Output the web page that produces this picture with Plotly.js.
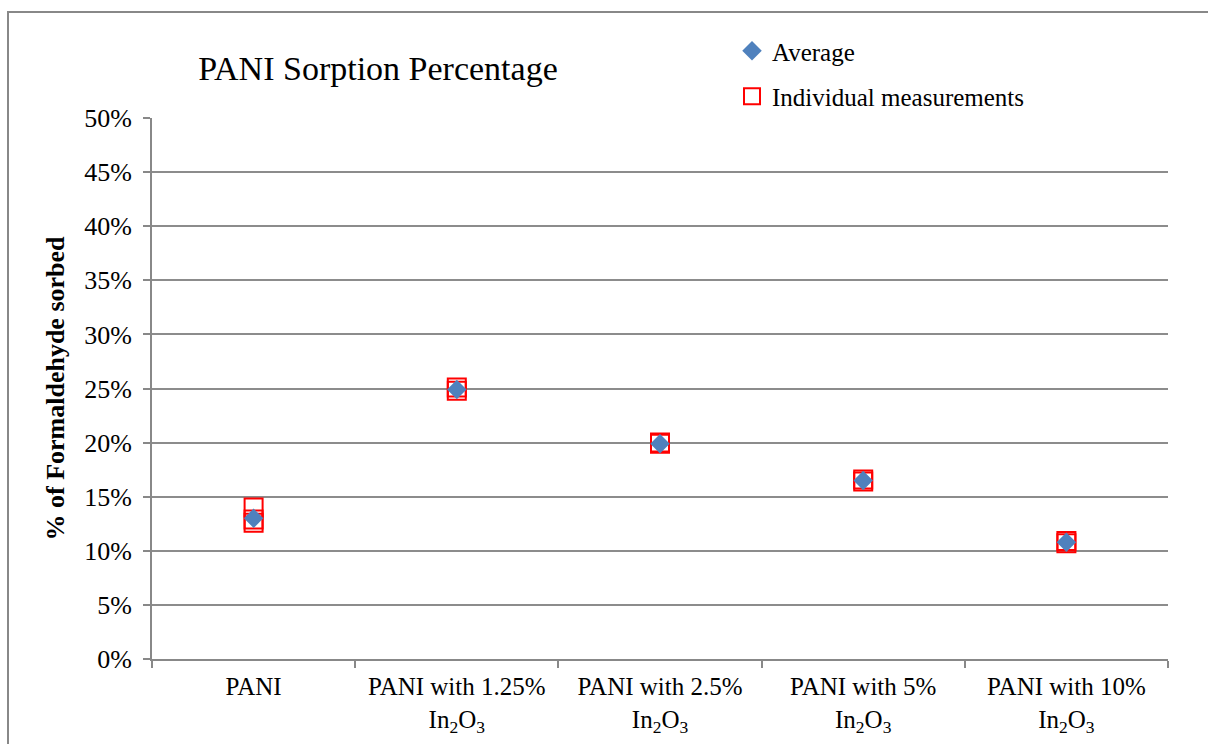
<!DOCTYPE html>
<html>
<head>
<meta charset="utf-8">
<script src="https://cdn.plot.ly/plotly-3.0.1.min.js"></script>
<style>html,body{margin:0;padding:0;background:#fff;}#chart{width:1208px;height:744px;}</style>
</head>
<body>
<div id="chart"></div>
<script>
const categories = ["PANI", "PANI with 1.25%<br>In<sub>2</sub>O<sub>3</sub>", "PANI with 2.5%<br>In<sub>2</sub>O<sub>3</sub>", "PANI with 5%<br>In<sub>2</sub>O<sub>3</sub>", "PANI with 10%<br>In<sub>2</sub>O<sub>3</sub>"];
const averageValues = [0.130, 0.249, 0.199, 0.165, 0.108];
const individualCategoryIndex = [0, 0, 0, 1, 1, 2, 2, 3, 3, 4, 4];
const individualValues = [0.140, 0.129, 0.126, 0.251, 0.248, 0.200, 0.199, 0.166, 0.164, 0.109, 0.107];
const yTickValues = [0, 0.05, 0.10, 0.15, 0.20, 0.25, 0.30, 0.35, 0.40, 0.45, 0.50];
const yTickLabels = ["0%", "5%", "10%", "15%", "20%", "25%", "30%", "35%", "40%", "45%", "50%"];

const font = "Liberation Serif";
const traces = [
  {
    x: individualCategoryIndex.map(i => categories[i]),
    y: individualValues,
    type: "scatter", mode: "markers", name: "Individual measurements",
    legendgroup: "b", legendrank: 2,
    marker: {symbol: "square-open", size: 18, color: "#FF0000", line: {width: 2, color: "#FF0000"}}
  },
  {
    x: categories, y: averageValues,
    type: "scatter", mode: "markers", name: "Average",
    legendgroup: "a", legendrank: 1,
    marker: {symbol: "diamond", size: 15, color: "#4F81BD"}
  }
];
const layout = {
  width: 1208, height: 744,
  margin: {l: 152, r: 40, t: 118, b: 85},
  paper_bgcolor: "#fff", plot_bgcolor: "#fff",
  font: {family: font, color: "#000", size: 25},
  title: {text: "PANI Sorption Percentage", font: {family: font, size: 34, color: "#000"}, x: 378/1208, xanchor: "center", y: 1 - 68/744, yanchor: "middle"},
  xaxis: {
    type: "category", range: [-0.5, 4.5], tickson: "boundaries", ticks: "outside", ticklen: 7, tickwidth: 2, tickcolor: "#888",
    showgrid: false, showline: true, linecolor: "#888", linewidth: 2, zeroline: false,
    tickfont: {family: font, size: 25, color: "#000"}, ticklabelstandoff: 4
  },
  yaxis: {
    range: [0, 0.5], tickvals: yTickValues, ticktext: yTickLabels, ticks: "outside", ticklen: 7, tickwidth: 2, tickcolor: "#888",
    showgrid: true, gridcolor: "#8c8c8c", gridwidth: 2, showline: true, linecolor: "#888", linewidth: 2, zeroline: false,
    tickfont: {family: font, size: 26, color: "#000"}, ticklabelstandoff: 6,
    title: {text: "<b>% of Formaldehyde sorbed</b>", font: {family: font, size: 26, color: "#000"}, standoff: 12}
  },
  legend: {x: (732-152)/1016, y: 1 + (118-28)/541, xanchor: "left", yanchor: "top", traceorder: "grouped", tracegroupgap: 10,
    font: {family: font, size: 25, color: "#000"}, bgcolor: "rgba(0,0,0,0)", itemwidth: 30},
  showlegend: true,
  shapes: [{type: "rect", xref: "paper", yref: "paper", x0: (8-152)/1016, x1: (1230-152)/1016, y0: -(770-659)/541, y1: 1 + (118-12)/541,
    line: {color: "#888", width: 2}, layer: "below"}]
};
Plotly.newPlot("chart", traces, layout, {displayModeBar: false});
</script>
</body>
</html>
